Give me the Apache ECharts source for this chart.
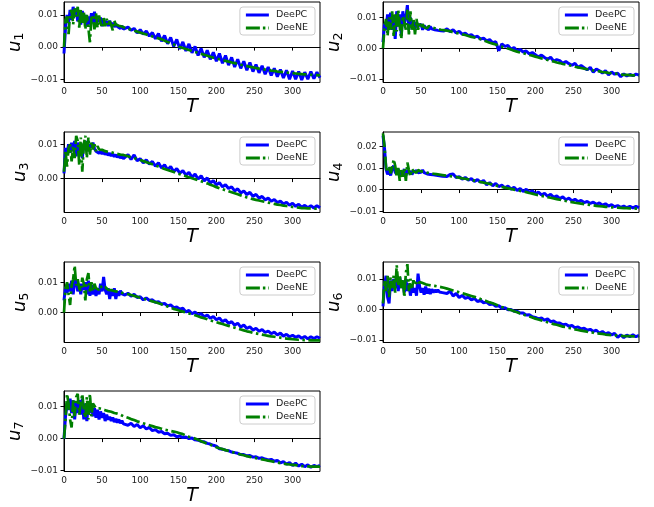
<!DOCTYPE html>
<html><head><meta charset="utf-8">
<script src="https://cdn.jsdelivr.net/npm/echarts@6/dist/echarts.min.js"></script>
<style>html,body{margin:0;padding:0;background:#fff}#c{width:654px;height:507px}</style>
</head><body><div id="c"></div>
<script>
// Time samples: every 2 steps for T = 0..80, every 4 steps for T = 84..336.
// Values are in units of 1e-4.
const SCALE = 1e-4;
const xTicks = [0, 50, 100, 150, 200, 250, 300];
const seriesNames = ['DeePC', 'DeeNE'];
const yLabels = ['u1', 'u2', 'u3', 'u4', 'u5', 'u6', 'u7'];

const u1_pc = [-20,60,100,75,115,85,125,95,120,80,110,70,112,85,100,65,95,70,105,75,110,70,95,78,92,65,88,70,80,65,82,66,76,62,72,64,68,58,66,56,62,
  62,52,58,44,54,40,50,34,45,26,42,18,36,10,30,2,24,-6,16,-12,10,-18,2,-26,-4,-32,-10,-38,-16,-44,-20,-50,-26,-56,-32,-62,-38,-66,-44,-72,-48,-76,-54,-80,-58,-84,-62,-88,-66,-92,-70,-96,-72,-100,-74,-100,-76,-102,-78,-100,-76,-98,-78,-95];
const u1_ne = [0,85,95,40,105,115,70,120,95,125,60,118,75,110,55,100,60,15,90,100,55,105,60,98,75,60,90,65,88,70,80,68,52,82,70,72,66,65,64,62,60,
  57,54,51,48,45,42,39,36,33,30,27,24,20,16,12,8,4,0,-3,-6,-9,-12,-15,-18,-21,-24,-27,-30,-33,-35,-38,-40,-43,-45,-48,-50,-52,-55,-57,-59,-61,-63,-65,-67,-68,-70,-71,-73,-74,-76,-77,-78,-79,-80,-81,-82,-83,-84,-85,-85,-86,-87,-87,-88];
const u2_pc = [20,80,60,110,75,115,60,105,30,120,70,110,40,120,80,100,140,60,100,75,90,62,85,72,68,78,60,74,66,72,60,70,63,68,60,66,58,64,57,62,56,
  63,54,60,50,55,46,49,41,44,36,39,30,33,24,28,18,21,-8,14,6,9,-3,2,-8,-4,-12,-9,-18,-14,-21,-28,-22,-30,-36,-29,-42,-37,-40,-49,-43,-50,-55,-49,-62,-56,-63,-70,-62,-78,-67,-73,-80,-73,-86,-77,-84,-81,-92,-83,-90,-85,-89,-84,-87];
const u2_ne = [0,70,95,40,100,60,120,40,110,55,125,70,30,105,110,60,125,45,120,60,95,45,95,60,80,65,78,68,74,65,72,70,68,66,65,63,62,61,60,59,59,
  57,55,52,50,48,45,43,40,37,35,32,29,26,22,18,15,12,8,5,2,-1,-4,-8,-11,-14,-16,-19,-22,-24,-27,-30,-33,-35,-38,-41,-43,-46,-48,-51,-53,-55,-57,-60,-62,-64,-66,-68,-70,-72,-74,-75,-77,-78,-80,-81,-82,-83,-85,-86,-86,-87,-88,-88,-88];
const u3_pc = [15,90,70,100,75,105,80,110,65,105,80,95,60,100,85,110,80,100,90,105,88,80,84,74,80,72,82,70,76,68,74,66,72,64,70,62,68,60,66,58,63,
  70,56,69,52,58,46,55,42,50,36,46,31,40,26,35,20,29,16,23,10,18,4,13,-1,8,-7,2,-13,-6,-18,-12,-24,-18,-29,-24,-36,-30,-42,-36,-47,-40,-52,-46,-57,-52,-62,-57,-66,-61,-70,-66,-74,-69,-78,-72,-81,-75,-84,-78,-85,-79,-86,-79,-85];
const u3_ne = [20,80,35,90,100,50,95,60,125,110,40,120,20,100,125,60,120,70,110,85,100,80,95,85,90,84,86,80,82,78,80,77,77,74,74,72,72,70,70,69,68,
  65,62,60,57,54,51,48,45,42,39,35,31,28,25,22,19,16,13,10,7,4,1,-2,-5,-8,-11,-14,-18,-21,-25,-28,-31,-34,-37,-40,-43,-46,-49,-52,-55,-57,-60,-62,-64,-66,-68,-70,-72,-74,-76,-77,-79,-80,-81,-83,-84,-85,-86,-86,-87,-87,-88,-88,-88];
const u4_pc = [250,190,95,70,90,65,95,110,80,70,95,60,85,70,95,65,90,75,85,70,82,76,88,78,86,80,90,78,85,72,78,70,76,68,74,66,72,64,70,62,68,
  60,70,72,56,59,48,56,44,50,38,46,34,42,22,32,18,28,14,20,8,16,2,10,-4,5,-9,1,-13,-6,-20,-12,-25,-17,-31,-22,-36,-29,-42,-34,-47,-40,-52,-45,-56,-50,-60,-55,-64,-58,-68,-62,-72,-66,-76,-70,-79,-74,-82,-76,-84,-78,-85,-78,-84];
const u4_ne = [260,200,100,80,110,75,100,140,110,60,100,40,90,60,100,40,125,90,60,95,85,80,78,90,86,84,88,82,80,78,76,75,74,73,72,71,70,69,68,67,66,
  64,62,60,58,55,52,50,47,44,41,38,35,32,29,26,23,19,15,12,9,6,3,0,-3,-6,-9,-12,-16,-19,-23,-26,-29,-32,-35,-38,-41,-44,-47,-50,-53,-56,-58,-61,-63,-65,-67,-69,-71,-73,-75,-77,-78,-80,-81,-82,-83,-84,-85,-86,-86,-87,-87,-88,-88];
const u5_pc = [40,85,65,95,70,105,60,100,110,70,95,60,95,75,100,60,105,55,90,60,85,55,80,60,95,70,118,75,60,80,45,75,55,80,45,70,55,72,62,66,58,
  64,54,60,50,52,42,48,40,42,34,36,28,30,22,25,16,18,11,14,2,7,-4,2,-9,-3,-14,-8,-19,-13,-24,-18,-30,-24,-36,-30,-42,-35,-48,-41,-53,-47,-58,-52,-62,-56,-66,-61,-70,-65,-74,-68,-78,-72,-80,-75,-82,-77,-85,-79,-87,-80,-86,-80,-85];
const u5_ne = [0,80,100,60,25,90,110,155,90,110,80,70,115,95,40,110,130,70,100,70,95,80,85,75,88,80,78,84,82,75,76,74,72,71,70,69,68,67,66,64,63,
  61,58,55,52,49,46,43,40,37,34,31,27,24,20,16,12,9,6,3,0,-3,-6,-9,-12,-16,-19,-22,-26,-29,-32,-35,-38,-41,-44,-47,-50,-53,-56,-59,-62,-64,-67,-69,-71,-73,-75,-77,-79,-80,-82,-83,-85,-86,-87,-88,-89,-90,-90,-91,-91,-92,-92,-92,-92];
const u6_pc = [10,80,110,40,20,95,60,100,70,110,60,105,70,95,55,100,60,85,45,80,55,70,45,117,75,55,70,48,75,52,68,50,66,55,64,56,64,57,62,55,60,
  52,60,44,52,39,46,36,40,31,36,26,30,22,24,16,18,10,12,4,6,-1,0,-6,-6,-12,-12,-18,-17,-24,-26,-31,-28,-35,-31,-40,-38,-44,-44,-50,-48,-55,-52,-60,-57,-64,-61,-68,-65,-72,-68,-77,-72,-80,-76,-83,-78,-91,-83,-92,-84,-89,-83,-89,-85];
const u6_ne = [20,95,60,110,40,105,70,110,55,145,80,110,70,100,40,120,148,60,100,70,95,80,90,82,90,84,86,83,82,81,80,79,78,77,77,76,75,74,73,72,71,
  68,65,62,59,56,53,50,47,44,41,38,34,31,27,23,20,16,12,8,5,1,-2,-6,-9,-13,-16,-20,-23,-26,-30,-33,-36,-39,-42,-45,-48,-50,-53,-56,-58,-60,-63,-65,-67,-69,-71,-73,-75,-76,-78,-79,-80,-82,-83,-84,-85,-85,-86,-87,-87,-87,-88,-88,-88];
const u7_pc = [0,70,110,90,125,80,120,60,115,80,120,75,125,60,110,55,115,80,110,70,95,65,90,60,85,65,80,55,75,60,68,55,66,52,62,50,60,48,56,46,52,
  42,48,38,44,34,40,30,35,25,28,20,22,15,17,10,12,6,8,3,5,0,2,-4,-5,-9,-10,-15,-17,-21,-24,-32,-33,-36,-38,-42,-44,-46,-50,-50,-54,-53,-58,-57,-62,-60,-64,-67,-65,-71,-68,-76,-72,-80,-75,-84,-77,-86,-80,-88,-82,-90,-84,-88,-84];
const u7_ne = [0,60,140,110,60,35,120,70,130,140,75,70,140,90,65,130,60,140,70,110,105,95,100,95,98,92,90,89,88,86,85,84,82,80,79,78,76,75,73,70,68,
  65,61,58,54,51,48,45,42,39,36,34,31,28,26,24,22,20,17,14,10,6,3,0,-4,-8,-12,-16,-19,-23,-27,-30,-33,-36,-39,-42,-44,-47,-50,-52,-55,-57,-59,-61,-63,-65,-67,-69,-71,-73,-75,-77,-78,-80,-81,-82,-83,-85,-86,-86,-87,-88,-88,-88,-88];

const yRanges = [[-0.0110,0.0140],[-0.0111,0.0150],[-0.0099,0.0136],[-0.0106,0.0266],[-0.0099,0.0167],[-0.0108,0.0155],[-0.0103,0.0149]];
const yTickSets = [[-0.01,0,0.01],[-0.01,0,0.01],[0,0.01],[-0.01,0,0.01,0.02],[0,0.01],[-0.01,0,0.01],[-0.01,0,0.01]];

// sampling grid of time steps
const T = [];
for (let t = 0; t <= 80; t += 2) T.push(t);
for (let t = 84; t <= 336; t += 4) T.push(t);
const pcs = [u1_pc,u2_pc,u3_pc,u4_pc,u5_pc,u6_pc,u7_pc];
const nes = [u1_ne,u2_ne,u3_ne,u4_ne,u5_ne,u6_ne,u7_ne];

const colLeft = [64, 383], rowTop = [2, 132, 262, 391];
const gridW = 256, gridH = 80.5;
const FONT = 'DejaVu Sans';
const fmtY = v => { const s = Math.abs(v) < 1e-12 ? '0.00' : Math.abs(v).toFixed(2); return v < -1e-12 ? '\u2212' + s : s; };

const grids = [], xAxes = [], yAxes = [], series = [], legends = [];
const dashIcon = 'path://M0,0h14v3h-14z M17,0h2.5v3h-2.5z M22.4,0h0.6v3h-0.6z';
pcs.forEach((pc, k) => {
  const col = k % 2, row = Math.floor(k / 2);
  grids.push({left: colLeft[col], top: rowTop[row], width: gridW, height: gridH,
    show: true, borderColor: '#000', borderWidth: 1, backgroundColor: 'transparent'});
  xAxes.push({type: 'value', gridIndex: k, min: 0, max: 336,
    name: 'T', nameLocation: 'middle', nameGap: 11,
    nameTextStyle: {fontFamily: FONT, fontStyle: 'italic', fontSize: 19, color: '#000'},
    axisLine: {show: true, lineStyle: {color: '#000', width: 1}},
    axisTick: {show: true, length: 3.5, inside: false, customValues: xTicks, lineStyle: {color: '#000'}},
    axisLabel: {customValues: xTicks, margin: 5, fontFamily: FONT, fontSize: 9, color: '#222'},
    splitLine: {show: false}});
  const num = yLabels[k].slice(1);
  yAxes.push({type: 'value', gridIndex: k, min: yRanges[k][0], max: yRanges[k][1],
    name: '{u|u}{s|' + num + '}', nameLocation: 'middle', nameGap: 33, nameRotate: 90,
    nameTextStyle: {rich: {
      u: {fontFamily: FONT, fontStyle: 'italic', fontSize: 18, color: '#000'},
      s: {fontFamily: FONT, fontSize: 12.5, color: '#000', padding: [9, 0, 0, 0]}}},
    axisLine: {show: true, lineStyle: {color: '#000', width: 1}},
    axisTick: {show: true, length: 3.5, customValues: yTickSets[k], lineStyle: {color: '#000'}},
    axisLabel: {customValues: yTickSets[k], margin: 6, fontFamily: FONT, fontSize: 9, color: '#222', formatter: fmtY},
    splitLine: {show: false}});
  series.push({name: seriesNames[0], type: 'line', xAxisIndex: k, yAxisIndex: k, showSymbol: false, symbol: 'none',
    data: T.map((t, i) => [t, pc[i] * SCALE]), lineStyle: {color: '#0000ff', width: 3}, itemStyle: {color: '#0000ff'}, animation: false, z: 2});
  series.push({name: seriesNames[1], type: 'line', xAxisIndex: k, yAxisIndex: k, showSymbol: false, symbol: 'none',
    data: T.map((t, i) => [t, nes[k][i] * SCALE]), lineStyle: {color: '#008000', width: 2.7, type: [14, 3.5, 2.5, 3.5]}, itemStyle: {color: '#008000'}, animation: false, z: 3});
  legends.push({orient: 'vertical', right: 654 - (colLeft[col] + gridW) + 5, top: rowTop[row] + 5,
    backgroundColor: 'rgba(255,255,255,0.85)', borderColor: '#ccc', borderWidth: 1, borderRadius: 3,
    padding: [3, 7, 2, 6], itemGap: 3, itemWidth: 23, itemHeight: 3, selectedMode: false,
    textStyle: {fontFamily: FONT, fontSize: 9.5, color: '#222', padding: [0, 0, 0, 2]},
    data: [{name: seriesNames[0], icon: 'rect', itemStyle: {color: '#0000ff'}},
           {name: seriesNames[1], icon: dashIcon, itemStyle: {color: '#008000'}}]});
});

const chart = echarts.init(document.getElementById('c'), null, {renderer: 'canvas'});
chart.setOption({animation: false, backgroundColor: '#fff', grid: grids, xAxis: xAxes, yAxis: yAxes, legend: legends, series: series});
</script></body></html>
